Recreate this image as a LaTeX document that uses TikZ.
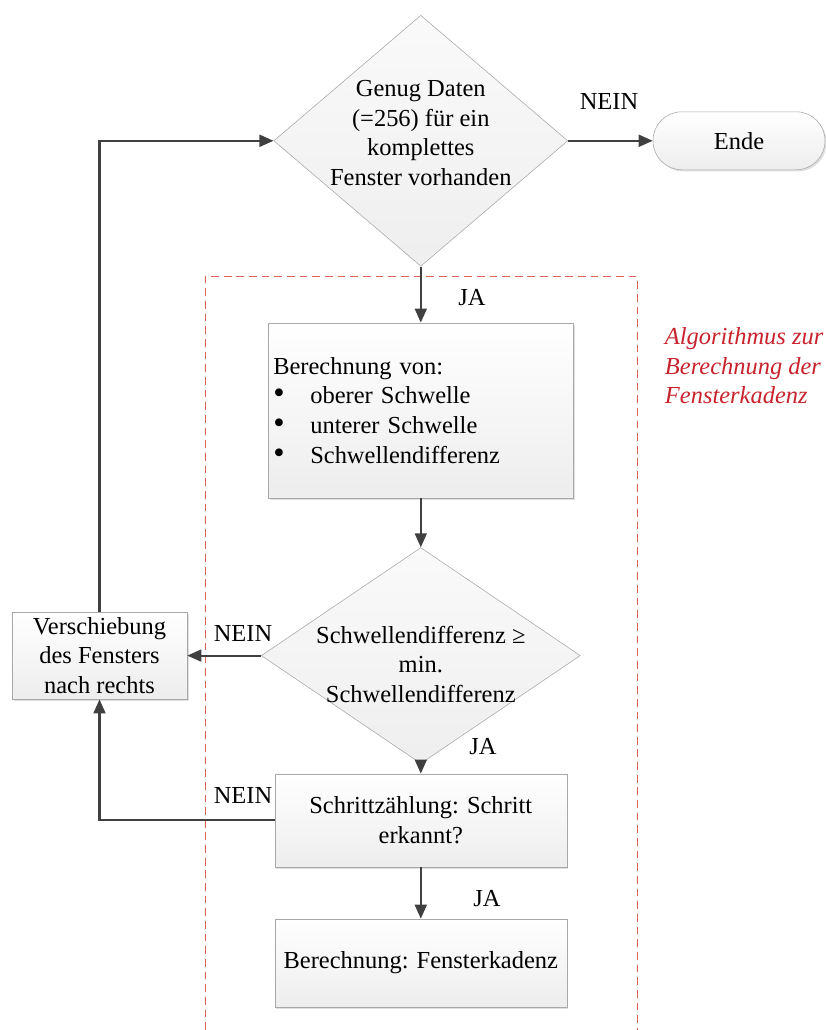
\documentclass[tikz,border=0pt]{standalone}
\usepackage{fontspec}
\setmainfont{Liberation Serif}
\usepackage{tikz}
\usetikzlibrary{shapes.geometric}
\usetikzlibrary{shadows}
\usetikzlibrary{arrows.meta}

\definecolor{pfeilgrau}{RGB}{64,64,64}
\definecolor{randgrau}{RGB}{168,168,168}
\definecolor{rahmenrot}{RGB}{222,100,90}
\definecolor{textrot}{RGB}{200,35,45}

\newcommand{\punkt}{\makebox[0.925cm][l]{\fontsize{23}{21}\selectfont\textbullet}}

\tikzset{
  block/.style={rectangle, draw=randgrau, top color=white, bottom color=gray!14,
    drop shadow={shadow xshift=1.2pt, shadow yshift=-1.2pt, opacity=0.25},
    align=center, inner sep=2pt},
  entscheidung/.style={diamond, draw=randgrau, top color=white!96!gray, bottom color=gray!13,
    inner sep=0pt},
  pfeil/.style={draw=pfeilgrau, line width=1.5pt, -{Triangle[length=10pt,width=8.5pt]}},
  rahmen/.style={draw=rahmenrot, line width=0.7pt, dash pattern=on 5.5pt off 3.5pt},
}

\begin{document}
\begin{tikzpicture}[font=\fontsize{17.4}{21}\selectfont]
  \useasboundingbox (0,0) rectangle (20.65,25.75);

  % Rahmen um den Algorithmus
  \draw[rahmen] (5.125,0) -- (5.125,18.825) -- (15.925,18.825) -- (15.925,0);
  \node[anchor=west, align=left, text=textrot, font=\fontsize{17.4}{21}\selectfont\itshape]
    (hinweis) at (16.5,16.6) {Algorithmus zur\\Berechnung der\\Fensterkadenz};

  % Knoten
  \node[entscheidung, minimum width=7.35cm, minimum height=6.275cm,
    label={[align=center, yshift=0.2cm]center:Genug Daten\\(=256) für ein\\komplettes\\Fenster vorhanden}]
    (daten) at (10.52,22.23) {};
  \node[block, rounded corners=0.72cm, minimum width=4.3cm, minimum height=1.45cm]
    (ende) at (18.475,22.23) {Ende};
  \node[block, align=left, text width=7.375cm, inner sep=0.125cm, minimum height=4.375cm]
    (berechnung) at (10.52,15.49) {Berechnung von:\\\punkt oberer Schwelle\\\punkt unterer Schwelle\\\punkt Schwellendifferenz};
  \node[entscheidung, minimum width=7.975cm, minimum height=5.4cm,
    label={[align=center, yshift=-0.22cm]center:Schwellendifferenz ≥\\min.\\Schwellendifferenz}]
    (differenz) at (10.52,9.36) {};
  \node[block, minimum width=4.375cm, minimum height=2.175cm]
    (verschiebung) at (2.4875,9.36) {Verschiebung\\des Fensters\\nach rechts};
  \node[block, minimum width=7.3cm, minimum height=2.325cm]
    (schritt) at (10.52,5.24) {Schrittzählung: Schritt\\erkannt?};
  \node[block, minimum width=7.3cm, minimum height=2.2cm]
    (kadenz) at (10.52,1.675) {Berechnung: Fensterkadenz};

  % Verbindungen
  \draw[pfeil] (daten.east) -- (ende.west);
  \draw[pfeil] (daten.south) -- (berechnung.north);
  \draw[pfeil] (berechnung.south) -- (differenz.north);
  \draw[pfeil] (differenz.west) -- (verschiebung.east);
  \draw[pfeil] (differenz.south) -- (schritt.north);
  \draw[pfeil] (schritt.south) -- (kadenz.north);
  \draw[pfeil] (schritt.west) -| (verschiebung.south);
  \draw[pfeil] (verschiebung.north) |- (daten.west);

  % Beschriftungen
  \node (nein1) at (15.225,23.2) {NEIN};
  \node (ja1) at (11.8,18.3) {JA};
  \node (nein2) at (6.075,9.925) {NEIN};
  \node (ja2) at (12.075,7.075) {JA};
  \node (nein3) at (6.075,5.875) {NEIN};
  \node (ja3) at (12.175,3.275) {JA};
\end{tikzpicture}
\end{document}
